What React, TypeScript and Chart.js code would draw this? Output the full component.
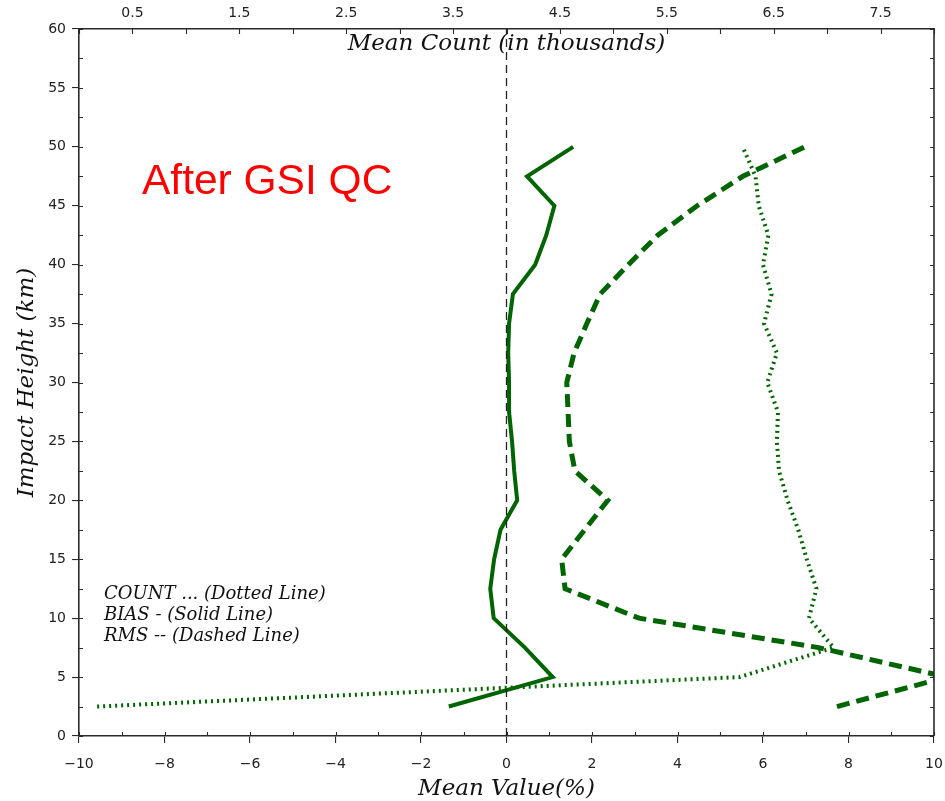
import React, { useEffect, useRef } from 'react';
import { Chart, registerables } from 'chart.js';

Chart.register(...registerables);

// Impact heights (km) of every profile level
const heights = [2.5, 5, 7.5, 10, 12.5, 15, 17.5, 20, 22.5, 25, 27.5, 30, 32.5, 35, 37.5, 40, 42.5, 45, 47.5, 50];
// Mean bias (%) – solid line
const biasValues = [-1.35, 1.08, 0.43, -0.3, -0.38, -0.29, -0.14, 0.25, 0.18, 0.13, 0.06, 0.06, 0.04, 0.06, 0.15, 0.67, 0.93, 1.12, 0.48, 1.56];
// RMS (%) – dashed line
const rmsValues = [7.73, 10.3, 7.3, 3.1, 1.37, 1.29, 1.83, 2.37, 1.6, 1.47, 1.44, 1.41, 1.58, 1.88, 2.19, 2.85, 3.54, 4.46, 5.53, 6.98];
// Mean count (thousands) – dotted line, top axis
const countValues = [0.17, 6.18, 7.06, 6.83, 6.9, 6.81, 6.73, 6.63, 6.55, 6.53, 6.54, 6.44, 6.53, 6.41, 6.48, 6.4, 6.45, 6.36, 6.33, 6.21];

// Zero reference line
const zeroLineX = [0, 0];
const zeroLineY = [0, 60];

// Axis ticks
const countTickValues = [0.5, 1.5, 2.5, 3.5, 4.5, 5.5, 6.5, 7.5];
const valueRange = [-10, 10];
const countRange = [0, 8];
const heightRange = [0, 60];

// Texts
const legendLines = ['COUNT ... (Dotted Line)', 'BIAS - (Solid Line)', 'RMS -- (Dashed Line)'];
const panelLabel = 'After GSI QC';
const countAxisTitle = 'Mean Count (in thousands)';
const valueAxisTitle = 'Mean Value(%)';
const heightAxisTitle = 'Impact Height (km)';

const GREEN = '#006400';
const AXIS = '#2a2a2a';
const SERIF_IT = 'italic 23px "DejaVu Serif", serif';

const decorPlugin = {
  id: 'decor',
  afterDraw(chart: any) {
    const { ctx, chartArea: a, scales } = chart;
    const xs = scales.x;
    const x2 = scales.x2;
    const ys = scales.y;
    ctx.save();
    ctx.strokeStyle = AXIS;
    ctx.lineWidth = 1.6;
    ctx.beginPath();
    ctx.moveTo(a.right, a.top);
    ctx.lineTo(a.right, a.bottom);
    ctx.stroke();

    ctx.lineWidth = 1.1;
    ctx.beginPath();
    for (let v = heightRange[0]; v <= heightRange[1]; v += 2.5) {
      const py = Math.round(ys.getPixelForValue(v)) + 0.5;
      ctx.moveTo(a.left, py);
      ctx.lineTo(a.left + 4, py);
      ctx.moveTo(a.right, py);
      ctx.lineTo(a.right - 4, py);
    }
    for (let v = valueRange[0]; v <= valueRange[1]; v += 1) {
      const px = Math.round(xs.getPixelForValue(v)) + 0.5;
      ctx.moveTo(px, a.bottom);
      ctx.lineTo(px, a.bottom - 4);
    }
    for (let v = countRange[0]; v <= countRange[1]; v += 0.5) {
      const px = Math.round(x2.getPixelForValue(v)) + 0.5;
      ctx.moveTo(px, a.top);
      ctx.lineTo(px, a.top + 5);
    }
    ctx.stroke();

    // count axis title inside the plot
    ctx.fillStyle = '#111';
    ctx.font = SERIF_IT;
    ctx.textAlign = 'center';
    ctx.textBaseline = 'middle';
    ctx.fillText(countAxisTitle, (a.left + a.right) / 2, a.top + 15);

    // panel label
    ctx.fillStyle = '#ff0000';
    ctx.font = '42.5px "Liberation Sans", Arial, sans-serif';
    ctx.textAlign = 'left';
    ctx.textBaseline = 'alphabetic';
    ctx.fillText(panelLabel, a.left + 63, a.top + 165);

    // line-style legend
    ctx.fillStyle = '#111';
    ctx.font = 'italic 18px "DejaVu Serif", serif';
    ctx.textBaseline = 'middle';
    legendLines.forEach((t, i) => {
      ctx.fillText(t, a.left + 25, a.top + 565 + i * 21);
    });
    ctx.restore();
  },
};

const fmtValue = (v: number) => (v < 0 ? '\u2212' + Math.abs(v) : String(v));

export default function App() {
  const ref = useRef<HTMLCanvasElement | null>(null);

  useEffect(() => {
    if (!ref.current) return;
    Chart.defaults.font.family = '"DejaVu Sans", sans-serif';
    const toPts = (xs: number[], ys: number[]) => xs.map((x, i) => ({ x, y: ys[i] }));
    const tickFont = { size: 14, family: '"DejaVu Sans", sans-serif' };
    const titleFont = { size: 23, style: 'italic', family: '"DejaVu Serif", serif' };

    const chart = new Chart(ref.current, {
      type: 'scatter',
      data: {
        datasets: [
          {
            label: 'zero',
            data: toPts(zeroLineX, zeroLineY),
            xAxisID: 'x',
            showLine: true,
            borderColor: '#222',
            borderWidth: 1.3,
            borderDash: [8, 5],
            pointRadius: 0,
          },
          {
            label: 'COUNT',
            data: toPts(countValues, heights),
            xAxisID: 'x2',
            showLine: true,
            borderColor: GREEN,
            borderWidth: 4,
            borderDash: [2, 4],
            borderCapStyle: 'butt',
            pointRadius: 0,
          },
          {
            label: 'BIAS',
            data: toPts(biasValues, heights),
            xAxisID: 'x',
            showLine: true,
            borderColor: GREEN,
            borderWidth: 4,
            borderJoinStyle: 'miter',
            pointRadius: 0,
          },
          {
            label: 'RMS',
            data: toPts(rmsValues, heights),
            xAxisID: 'x',
            showLine: true,
            borderColor: GREEN,
            borderWidth: 5,
            borderDash: [13, 7],
            borderCapStyle: 'butt',
            pointRadius: 0,
          },
        ],
      },
      options: {
        responsive: false,
        animation: false,
        events: [],
        layout: { padding: { left: 0, right: 11, top: 0, bottom: 0 } },
        plugins: { legend: { display: false }, tooltip: { enabled: false } },
        scales: {
          x: {
            type: 'linear',
            position: 'bottom',
            min: valueRange[0],
            max: valueRange[1],
            ticks: { stepSize: 2, font: tickFont, color: '#222', padding: 13, callback: (v: any) => fmtValue(Number(v)) },
            grid: { drawOnChartArea: false, drawTicks: true, tickLength: 7, color: AXIS, lineWidth: 1.1 },
            border: { display: true, color: AXIS, width: 1.6 },
            title: { display: true, text: valueAxisTitle, font: titleFont, color: '#111', padding: { top: 0, bottom: -2 } },
            afterFit: (s: any) => { s.height = 65; s.paddingLeft = 0; s.paddingRight = 0; },
          },
          x2: {
            type: 'linear',
            position: 'top',
            min: countRange[0],
            max: countRange[1],
            afterBuildTicks: (s: any) => { s.ticks = countTickValues.map((v) => ({ value: v })); },
            ticks: { font: tickFont, color: '#222', padding: 7, callback: (v: any) => String(v) },
            grid: { drawOnChartArea: false, drawTicks: false, color: AXIS },
            border: { display: true, color: AXIS, width: 1.6 },
            afterFit: (s: any) => { s.height = 29; s.paddingLeft = 0; s.paddingRight = 0; },
          },
          y: {
            type: 'linear',
            position: 'left',
            min: heightRange[0],
            max: heightRange[1],
            ticks: { stepSize: 5, font: tickFont, color: '#222', padding: 6 },
            grid: { drawOnChartArea: false, drawTicks: true, tickLength: 7, color: AXIS, lineWidth: 1.1 },
            border: { display: true, color: AXIS, width: 1.6 },
            title: { display: true, text: heightAxisTitle, font: titleFont, color: '#111', padding: { top: 13, bottom: 0 } },
            afterFit: (s: any) => { s.width = 79; s.paddingTop = 0; s.paddingBottom = 0; },
          },
        },
      } as any,
      plugins: [decorPlugin],
    });
    return () => chart.destroy();
  }, []);

  return (
    <div style={{ position: 'absolute', left: 0, top: 0, width: 945, height: 801, background: '#fff' }}>
      <canvas ref={ref} width={945} height={801} style={{ display: 'block' }} />
    </div>
  );
}
